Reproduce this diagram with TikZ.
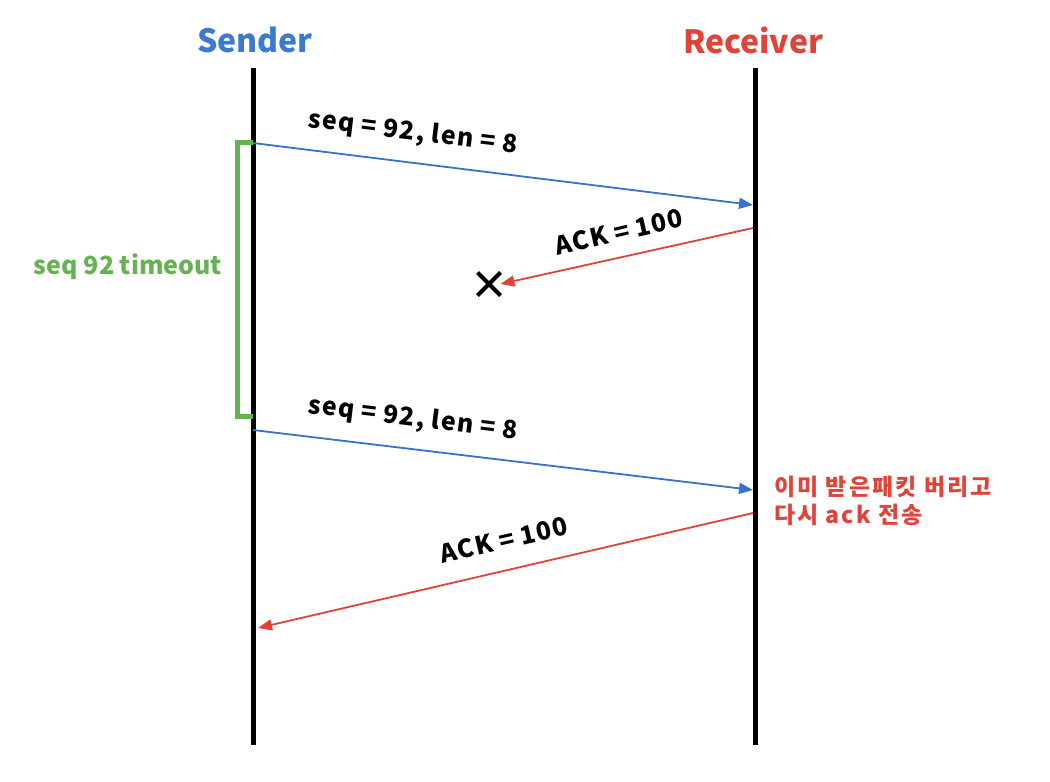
\documentclass[tikz,border=0pt]{standalone}
\usepackage{fontspec}
\setmainfont{Noto Sans CJK KR}
\newfontfamily\krfont{Noto Sans CJK KR}
\newfontfamily\krwide{Noto Sans CJK KR}[LetterSpace=5]
\newfontfamily\krnote{Noto Sans CJK KR}[LetterSpace=9]
\usetikzlibrary{arrows.meta,shapes.misc}
\definecolor{sendblue}{RGB}{59,122,204}
\definecolor{arrblue}{RGB}{55,115,205}
\definecolor{recvred}{RGB}{222,68,58}
\definecolor{tgreen}{RGB}{100,178,82}
\tikzset{
  lifeline/.style={line width=5pt, black},
  header/.style={font=\krfont\bfseries\fontsize{32}{36}\selectfont, inner sep=0pt},
  msgblue/.style={arrblue, line width=1.8pt, -{Triangle[length=14pt,width=11pt]}},
  msgred/.style={recvred, line width=1.8pt, -{Triangle[length=14pt,width=11pt]}},
  msglabel/.style={font=\krwide\bfseries\fontsize{25}{28}\selectfont, inner sep=0pt},
  timelabel/.style={font=\krfont\bfseries\fontsize{25}{28}\selectfont, inner sep=0pt},
}
\begin{document}
\begin{tikzpicture}[x=1pt,y=-1pt]
\useasboundingbox (0,0) rectangle (1050,782);
% headers
\node[header, text=sendblue] (sender) at (255,40) {Sender};
\node[header, text=recvred] (receiver) at (753,40) {Receiver};
% lifelines
\coordinate (stop) at (253,68);
\coordinate (sbot) at (253,745);
\coordinate (rtop) at (755,68);
\coordinate (rbot) at (755,745);
\draw[lifeline] (stop) -- (sbot);
\draw[lifeline] (rtop) -- (rbot);
% timeout bracket
\coordinate (gtop) at (253,142);
\coordinate (gbot) at (253,416);
\draw[tgreen, line width=5pt] (gtop) -- (237,142) -- (237,416) -- (gbot);
\node[timelabel, text=tgreen] (tlabel) at (128,267) {seq 92 timeout};
% first segment
\coordinate (s1) at (253,143);
\coordinate (r1) at (753,205);
\draw[msgblue] (s1) -- (r1);
\node[msglabel, rotate=-7] (l1) at (413,133) {seq = 92, len = 8};
% lost ack
\coordinate (r2) at (753,228);
\node[cross out, draw, line width=4pt, minimum size=19pt, inner sep=0pt] (lost) at (489,284) {};
\draw[msgred] (r2) -- (lost.east);
\node[msglabel, rotate=13] (l2) at (619,232) {ACK = 100};
% retransmission
\coordinate (s3) at (253,430);
\coordinate (r3) at (753,490);
\draw[msgblue] (s3) -- (r3);
\node[msglabel, rotate=-7] (l3) at (413,419) {seq = 92, len = 8};
% note
\node[anchor=north west, align=left, text=recvred, inner sep=0pt,
  font=\krnote\bfseries\fontsize{23}{28}\selectfont] (note) at (774,476)
  {이미 받은패킷 버리고\\다시 ack 전송};
% second ack
\coordinate (r4) at (753,513);
\coordinate (s4) at (258,628);
\draw[msgred] (r4) -- (s4);
\node[msglabel, rotate=13] (l4) at (504,540) {ACK = 100};
\end{tikzpicture}
\end{document}
